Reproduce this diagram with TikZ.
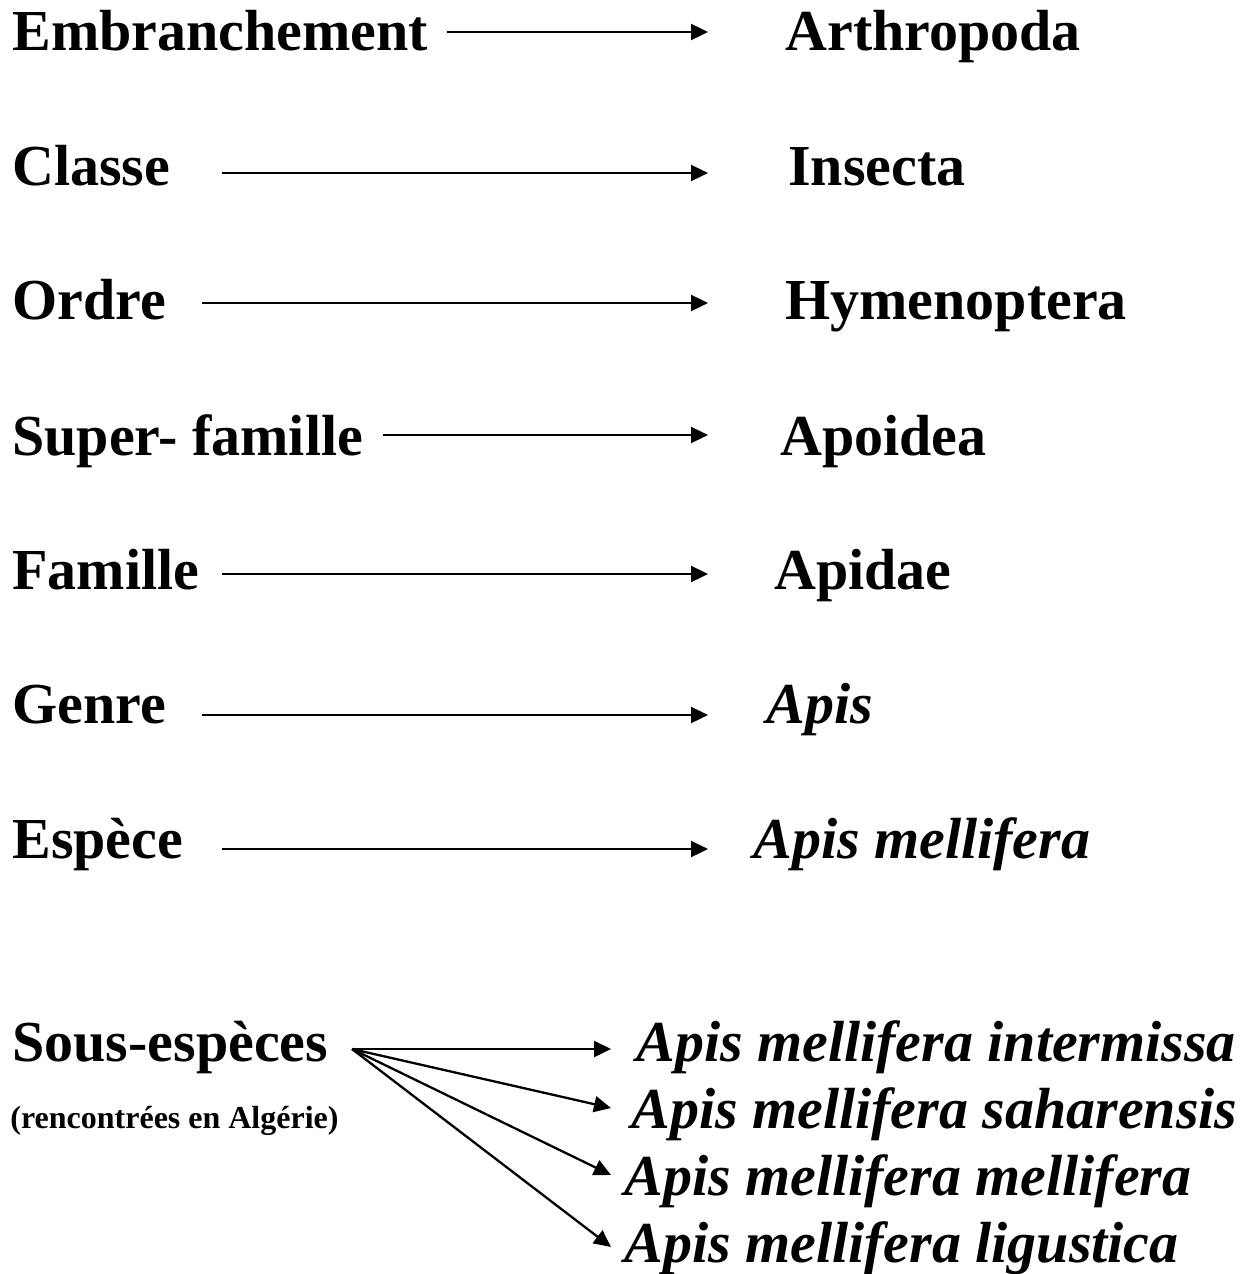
\documentclass[tikz,border=0pt]{standalone}
\usepackage{fontspec}
\setmainfont{Liberation Serif}
\usetikzlibrary{arrows.meta}
\newcommand{\rankfont}{\fontsize{29}{34}\selectfont\bfseries}
\newcommand{\notefont}{\fontsize{16}{19}\selectfont\bfseries}

\begin{document}
\begin{tikzpicture}[
    x=0.5pt, y=-0.5pt,
    every node/.style={font=\rankfont, inner sep=0pt, anchor=base west},
    taxon italic/.style={font=\rankfont\itshape},
    note/.style={font=\notefont},
    rank arrow/.style={-{Triangle[length=8.5pt, width=8pt]}, line width=1.15pt}
]
    \useasboundingbox (0,0) rectangle (1256,1274);

    \node (emb) at (12,50) {Embranchement};
    \node (arthro) at (785,50) {Arthropoda};
    \coordinate (emb_tail) at (447,32);
    \coordinate (emb_head) at (708,32);
    \draw[rank arrow] (emb_tail) -- (emb_head);

    \node (cls) at (12,185) {Classe};
    \node (insecta) at (788,185) {Insecta};
    \coordinate (cls_tail) at (222,173);
    \coordinate (cls_head) at (708,173);
    \draw[rank arrow] (cls_tail) -- (cls_head);

    \node (ord) at (12,319) {Ordre};
    \node (hymeno) at (785,319) {Hymenoptera};
    \coordinate (ord_tail) at (202,303);
    \coordinate (ord_head) at (708,303);
    \draw[rank arrow] (ord_tail) -- (ord_head);

    \node (supfam) at (12,455) {Super- famille};
    \node (apoidea) at (780,455) {Apoidea};
    \coordinate (supfam_tail) at (383,435);
    \coordinate (supfam_head) at (708,435);
    \draw[rank arrow] (supfam_tail) -- (supfam_head);

    \node (fam) at (12,589) {Famille};
    \node (apidae) at (774,589) {Apidae};
    \coordinate (fam_tail) at (222,574);
    \coordinate (fam_head) at (708,574);
    \draw[rank arrow] (fam_tail) -- (fam_head);

    \node (gen) at (12,723) {Genre};
    \node[taxon italic] (apis) at (766,723) {Apis};
    \coordinate (gen_tail) at (202,715);
    \coordinate (gen_head) at (708,715);
    \draw[rank arrow] (gen_tail) -- (gen_head);

    \node (esp) at (12,858) {Espèce};
    \node[taxon italic] (mellif) at (753,858) {Apis mellifera};
    \coordinate (esp_tail) at (222,849);
    \coordinate (esp_head) at (708,849);
    \draw[rank arrow] (esp_tail) -- (esp_head);

    % sous-especes
    \node (ssp) at (12,1061) {Sous-espèces};
    \node[note] (ssp_note) at (10,1128) {(rencontrées en Algérie)};
    \node[taxon italic] (inter) at (636,1061) {Apis mellifera intermissa};
    \node[taxon italic] (sahar) at (631,1128) {Apis mellifera saharensis};
    \node[taxon italic] (mellmell) at (624,1195) {Apis mellifera mellifera};
    \node[taxon italic] (ligus) at (624,1262) {Apis mellifera ligustica};

    \coordinate (ssp_fork) at (352,1049);
    \coordinate (inter_head) at (611,1049);
    \coordinate (sahar_head) at (611,1108);
    \coordinate (mellmell_head) at (611,1175);
    \coordinate (ligus_head) at (611,1247);
    \draw[rank arrow] (ssp_fork) -- (inter_head);
    \draw[rank arrow] (ssp_fork) -- (sahar_head);
    \draw[rank arrow] (ssp_fork) -- (mellmell_head);
    \draw[rank arrow] (ssp_fork) -- (ligus_head);
\end{tikzpicture}
\end{document}
